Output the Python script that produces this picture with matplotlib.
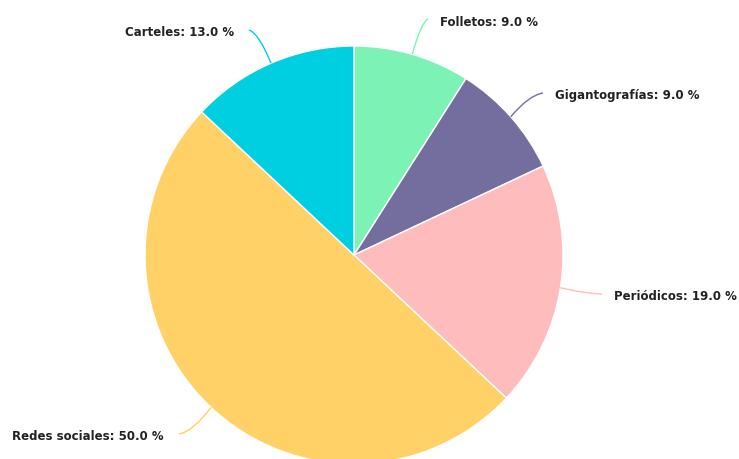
import numpy as np
import matplotlib
matplotlib.use("Agg")
import matplotlib.pyplot as plt
from matplotlib.path import Path
from matplotlib.patches import PathPatch

categories = ["Folletos", "Gigantografías", "Periódicos", "Redes sociales", "Carteles"]
values = [9.0, 9.0, 19.0, 50.0, 13.0]
colors = ["#7cf2b5", "#736e9e", "#ffbcbc", "#ffd166", "#00cfe2"]

W, H = 739, 459
fig = plt.figure(figsize=(W / 100, H / 100), dpi=100)
ax = fig.add_axes([0, 0, 1, 1])

cx, cy, R = 354, H - 255, 209
ax.pie(values, colors=colors, startangle=90, counterclock=False,
       center=(cx, cy), radius=R,
       wedgeprops=dict(linewidth=1, edgecolor="white"))
ax.set_xlim(0, W)
ax.set_ylim(0, H)
ax.set_aspect("auto")
ax.axis("off")

# label layout (image pixel coordinates: anchor of connector, text side)
label_pos = {
    "Folletos": (428, 19, "left"),
    "Gigantografías": (543, 93, "left"),
    "Periódicos": (602, 294, "left"),
    "Redes sociales": (179, 434, "right"),
    "Carteles": (249, 30, "right"),
}

total = sum(values)
cum = 0.0
for cat, val, col in zip(categories, values, colors):
    mid = (cum + val / 2) / total * 360.0
    cum += val
    a = np.deg2rad(mid)
    ex, ey = cx + R * np.sin(a), cy + R * np.cos(a)
    lx, ly_img, side = label_pos[cat]
    ly = H - ly_img
    ctrlx = lx + (ex - lx) * 0.45
    ctrly = ly + (ey - ly) * 0.1
    path = Path([(lx, ly), (ctrlx, ctrly), (ex, ey)],
                [Path.MOVETO, Path.CURVE3, Path.CURVE3])
    ax.add_patch(PathPatch(path, fill=False, edgecolor=col, lw=1.0))
    tx = lx + 12 if side == "left" else lx - 15
    ax.text(tx, ly - 3, f"{cat}: {val:.1f} %", ha=side, va="center",
            fontsize=8.5, fontweight="bold", family=["DejaVu Sans"],
            color="#222222")

fig.savefig("out.png", dpi=100)
